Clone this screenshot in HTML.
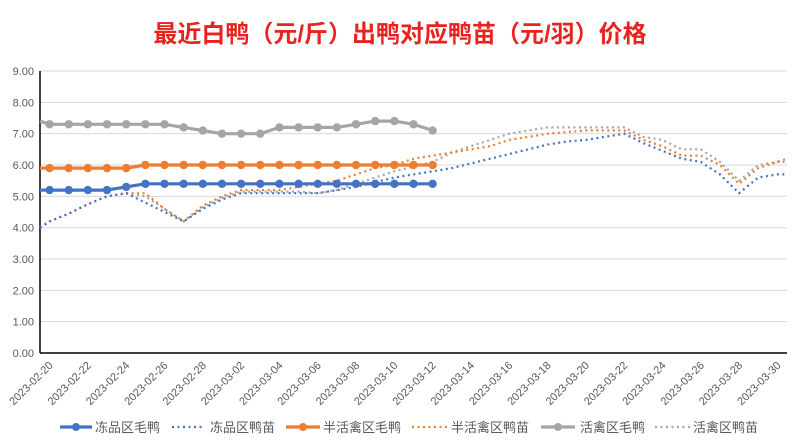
<!DOCTYPE html>
<html><head><meta charset="utf-8"><style>
html,body{margin:0;padding:0;background:#fff;}
svg{display:block;font-family:"Liberation Sans","Noto Sans CJK SC",sans-serif;}
</style></head><body>
<svg id="c" width="800" height="446" viewBox="0 0 800 446" xmlns="http://www.w3.org/2000/svg">
<rect width="800" height="446" fill="#fff"/>
<text x="400" y="42" text-anchor="middle" font-size="24" font-weight="bold" fill="#e8231f" font-family="'Liberation Sans','Noto Sans CJK SC',sans-serif">最近白鸭（元/斤）出鸭对应鸭苗（元/羽）价格</text>
<g id="grid"></g>
<g id="series"></g>
<g id="labels"></g>
<g id="legend" font-size="13" fill="#595959"></g>
</svg>
<script>
const NS="http://www.w3.org/2000/svg";
const L=40,R=787,T=71,B=353,w=(R-L)/39;
const Y=v=>B-v*(B-T)/9, X=i=>L+(i+0.5)*w;
function el(p,t,a,txt){const e=document.createElementNS(NS,t);for(const k in a)e.setAttribute(k,a[k]);if(txt!=null)e.textContent=txt;p.appendChild(e);return e;}
const g=document.getElementById('grid'),s=document.getElementById('series'),lb=document.getElementById('labels'),lg=document.getElementById('legend');
for(let v=0;v<=9;v++){
  if(v>0)el(g,'line',{x1:L,x2:R,y1:Y(v),y2:Y(v),stroke:'#d9d9d9','stroke-width':1});
  el(g,'text',{x:34,y:Y(v)+4,'text-anchor':'end','font-size':11,fill:'#595959'},v.toFixed(2));
}
el(g,'line',{x1:L,x2:L,y1:T,y2:B,stroke:'#000','stroke-width':1.5});
el(g,'line',{x1:L,x2:R,y1:B,y2:B,stroke:'#000','stroke-width':1.5});
const dates=[];
for(let i=0;i<39;i++){const d=new Date(Date.UTC(2023,1,20+i));dates.push(d.toISOString().slice(0,10));}
for(let i=0;i<39;i+=2){
  const x=X(i)+4,y=366;
  el(lb,'text',{x:x,y:y,'text-anchor':'end','font-size':11,fill:'#595959',transform:`rotate(-45 ${x} ${y})`},dates[i]);
}
const blueD=[4.2,4.45,4.75,5.0,5.1,4.8,4.5,4.2,4.6,4.9,5.1,5.1,5.1,5.1,5.1,5.2,5.3,5.45,5.6,5.7,5.8,5.9,6.05,6.2,6.35,6.5,6.65,6.75,6.8,6.9,7.0,6.7,6.45,6.2,6.1,5.7,5.1,5.6,5.7];
const orD=[4.2,4.45,4.75,5.0,5.1,5.1,4.6,4.2,4.7,5.0,5.2,5.2,5.2,5.3,5.4,5.5,5.7,5.9,6.0,6.2,6.3,6.4,6.5,6.6,6.8,6.9,7.0,7.05,7.1,7.1,7.1,6.8,6.6,6.3,6.3,6.0,5.4,5.9,6.1];
const grD=[4.2,4.45,4.75,5.0,5.1,5.0,4.6,4.2,4.65,4.95,5.15,5.15,5.15,5.15,5.1,5.2,5.4,5.6,5.8,5.95,6.1,6.4,6.6,6.8,7.0,7.1,7.2,7.2,7.2,7.2,7.2,6.9,6.8,6.5,6.5,6.1,5.5,6.0,6.1];
const gr=[7.3,7.3,7.3,7.3,7.3,7.3,7.3,7.2,7.1,7.0,7.0,7.0,7.2,7.2,7.2,7.2,7.3,7.4,7.4,7.3,7.1];
const or=[5.9,5.9,5.9,5.9,5.9,6,6,6,6,6,6,6,6,6,6,6,6,6,6,6,6];
const bl=[5.2,5.2,5.2,5.2,5.3,5.4,5.4,5.4,5.4,5.4,5.4,5.4,5.4,5.4,5.4,5.4,5.4,5.4,5.4,5.4,5.4];
function dotted(arr,start,end,col){
  let p=`${L},${Y(start)} `+arr.map((v,i)=>`${X(i).toFixed(1)},${Y(v).toFixed(1)}`).join(' ');
  if(end!=null)p+=` ${R},${Y(end)}`;
  el(s,'polyline',{points:p,fill:'none',stroke:col,'stroke-width':2.2,'stroke-dasharray':'2 3.5'});
}
function solid(arr,start,col){
  let p=`${L},${Y(start)} `+arr.map((v,i)=>`${X(i).toFixed(1)},${Y(v).toFixed(1)}`).join(' ');
  el(s,'polyline',{points:p,fill:'none',stroke:col,'stroke-width':3.2,'stroke-linejoin':'round'});
  arr.forEach((v,i)=>el(s,'circle',{cx:X(i),cy:Y(v),r:4.2,fill:col}));
}
dotted(grD,4.0,6.1,'#a5a5a5');
dotted(orD,4.0,6.2,'#ed7d31');
dotted(blueD,4.0,5.7,'#4472c4');
solid(gr,7.4,'#a5a5a5');
solid(or,5.9,'#ed7d31');
solid(bl,5.2,'#4472c4');
const items=[[60,92,'#4472c4',0,'冻品区毛鸭',95],[172,205,'#4472c4',1,'冻品区鸭苗',210],[286,320,'#ed7d31',0,'半活禽区毛鸭',323],[412,447,'#ed7d31',1,'半活禽区鸭苗',451],[541,575,'#a5a5a5',0,'活禽区毛鸭',580],[655,690,'#a5a5a5',1,'活禽区鸭苗',693]];
const ly=427;
items.forEach(([a,b,c,d,t,tx])=>{
  if(d)el(lg,'line',{x1:a,x2:b,y1:ly,y2:ly,stroke:c,'stroke-width':2.2,'stroke-dasharray':'2 3.5'});
  else{el(lg,'line',{x1:a,x2:b,y1:ly,y2:ly,stroke:c,'stroke-width':3.2});el(lg,'circle',{cx:(a+b)/2,cy:ly,r:4,fill:c});}
  el(lg,'text',{x:tx,y:ly+5,'font-size':13,fill:'#595959'},t);
});
</script>
</body></html>
